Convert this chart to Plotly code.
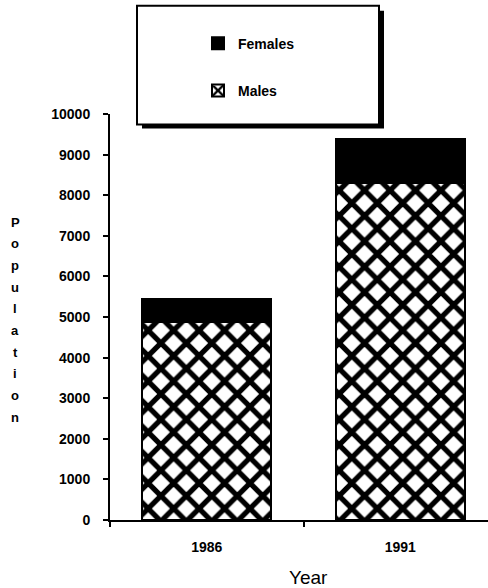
import plotly.graph_objects as go

# Population by census year
years = ["1986", "1991"]
males = [4880, 8290]
females = [560, 1100]
y_ticks = [0, 1000, 2000, 3000, 4000, 5000, 6000, 7000, 8000, 9000, 10000]
y_tick_labels = [str(v) for v in y_ticks]

W, H = 488, 588
ML, MR, MT, MB = 110, 0, 113.5, 67.5
PW, PH = W - ML - MR, H - MT - MB


def px_x(p):
    return (p - ML) / PW


def px_y(p):
    return (H - MB - p) / PH


FONT = "Liberation Sans, Arial, Helvetica, sans-serif"

fig = go.Figure()
fig.add_trace(go.Bar(
    x=years, y=males, name="Males", legendgroup="m", legendrank=2,
    width=0.667,
    marker=dict(color="white", line=dict(color="black", width=2),
                pattern=dict(shape="x", fgcolor="black", bgcolor="white",
                             fgopacity=1, size=18, solidity=0.5)),
))
fig.add_trace(go.Bar(
    x=years, y=females, name="Females", legendgroup="f", legendrank=1,
    width=0.667,
    marker=dict(color="black", line=dict(color="black", width=2)),
))

# legend frame with drop shadow
shapes = [
    dict(type="rect", xref="paper", yref="paper",
         x0=px_x(142), x1=px_x(384), y0=px_y(128), y1=px_y(10),
         fillcolor="black", line=dict(width=0), layer="above"),
    dict(type="rect", xref="paper", yref="paper",
         x0=px_x(137), x1=px_x(379), y0=px_y(124), y1=px_y(5),
         fillcolor="white", line=dict(color="black", width=2), layer="above"),
]

# vertical stacked axis title
annotations = []
word = "Population"
for i, ch in enumerate(word):
    annotations.append(dict(
        text=ch, xref="paper", yref="paper",
        x=px_x(15), y=px_y(222 + i * 21.7),
        xanchor="center", yanchor="middle", showarrow=False,
        font=dict(family=FONT, size=13, color="black", weight="bold"),
    ))
annotations.append(dict(
    text="Year", xref="paper", yref="paper",
    x=px_x(308), y=px_y(578), xanchor="center", yanchor="middle",
    showarrow=False, font=dict(family=FONT, size=19, color="black"),
))

fig.update_layout(
    width=W, height=H,
    margin=dict(l=ML, r=MR, t=MT, b=MB, pad=0),
    paper_bgcolor="white", plot_bgcolor="white",
    barmode="stack", bargap=0,
    shapes=shapes, annotations=annotations,
    showlegend=True,
    legend=dict(
        x=px_x(198), y=px_y(27), xanchor="left", yanchor="top",
        traceorder="grouped", tracegroupgap=26,
        bgcolor="rgba(0,0,0,0)", borderwidth=0,
        font=dict(family=FONT, size=14, color="black", weight="bold"),
    ),
    xaxis=dict(
        type="category", range=[-0.5, 1.453],
        tickson="boundaries", ticks="outside", ticklen=5, tickwidth=2,
        tickcolor="black", showline=True, linecolor="black", linewidth=2,
        showgrid=False, zeroline=False, ticklabelstandoff=13,
        tickfont=dict(family=FONT, size=14, color="black", weight="bold"),
    ),
    xaxis2=dict(
        overlaying="x", anchor="y", range=[-0.5, 1.453],
        tickvals=[0.5], ticks="inside", ticklen=5, tickwidth=2,
        tickcolor="black", showticklabels=False, showline=False,
        showgrid=False, zeroline=False,
    ),
    yaxis=dict(
        range=[0, 10000], tickvals=y_ticks, ticktext=y_tick_labels,
        ticks="outside", ticklen=5, tickwidth=2, tickcolor="black",
        showline=True, linecolor="black", linewidth=2,
        showgrid=False, zeroline=False, ticklabelstandoff=10,
        tickfont=dict(family=FONT, size=14, color="black", weight="bold"),
    ),
    yaxis2=dict(
        overlaying="y", anchor="x", range=[0, 10000], tickvals=y_ticks,
        ticks="inside", ticklen=5, tickwidth=2, tickcolor="black",
        showticklabels=False, showline=False, showgrid=False, zeroline=False,
    ),
)

fig.write_html("out.html")
